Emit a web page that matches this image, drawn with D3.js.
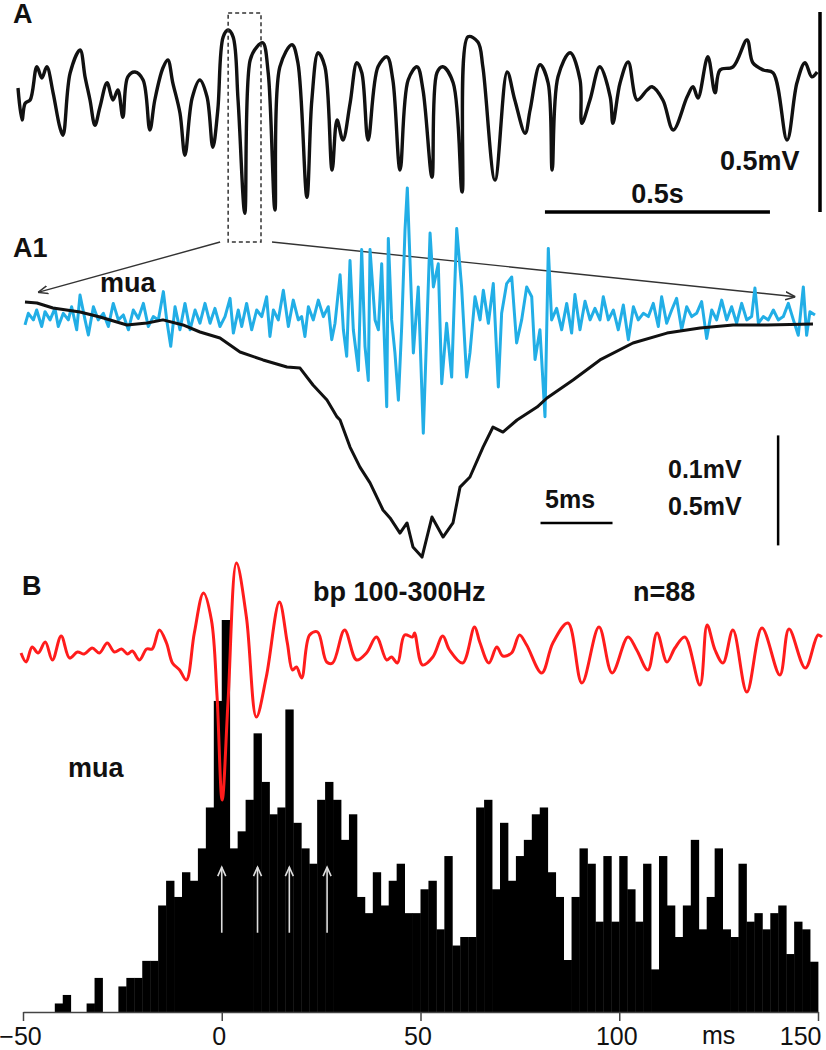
<!DOCTYPE html>
<html>
<head>
<meta charset="utf-8">
<script src="https://cdn.jsdelivr.net/npm/d3@7"></script>
<style>
  body { margin: 0; background: #fff; }
  svg { display: block; font-family: "Liberation Sans", Arial, sans-serif; }
</style>
</head>
<body>
<svg id="fig" width="826" height="1050"></svg>
<script>
// ---- data ----

// A: raw LFP, [time s, mV]
const lfpA = [
  [0.000,0.03],[0.009,-0.05],[0.016,-0.008],[0.027,0],[0.042,0.083],[0.053,0.055],[0.064,0.083],[0.078,0.018],
  [0.093,-0.068],[0.100,-0.088],[0.116,0.068],[0.138,0.125],[0.149,0.058],[0.160,0],[0.171,-0.063],[0.182,-0.018],
  [0.198,0.043],[0.211,0],[0.222,0.025],[0.233,-0.043],[0.244,0.058],[0.260,0.07],[0.278,0.05],[0.293,-0.075],
  [0.304,0],[0.322,0.08],[0.333,0.1],[0.344,0.043],[0.360,-0.033],[0.371,-0.138],[0.387,0.005],[0.404,0.05],
  [0.420,0.008],[0.433,-0.118],[0.444,-0.025],[0.456,0.158],[0.467,0.175],[0.478,0.158],[0.489,0],[0.504,-0.283],
  [0.516,0.1],[0.531,0.133],[0.544,0.143],[0.556,0.068],[0.571,-0.275],[0.582,0.083],[0.609,0.138],[0.622,0.093],
  [0.642,-0.243],[0.653,0],[0.667,0.118],[0.682,0.083],[0.698,-0.175],[0.709,-0.05],[0.722,-0.1],[0.738,-0.008],
  [0.753,0.093],[0.764,0.068],[0.778,-0.1],[0.800,0.083],[0.820,0.108],[0.833,0.05],[0.849,-0.175],[0.867,0.05],
  [0.887,0.083],[0.900,0.025],[0.920,-0.193],[0.931,0.068],[0.944,0.083],[0.967,0.043],[0.987,-0.23],[1.000,0.158],
  [1.022,0.145],[1.033,0.083],[1.060,-0.2],[1.087,0.07],[1.104,0],[1.127,-0.083],[1.138,-0.025],[1.160,0.088],
  [1.178,0.043],[1.187,-0.175],[1.200,0.058],[1.227,0.118],[1.249,0.05],[1.253,-0.058],[1.271,0],[1.293,0.083],
  [1.316,0.008],[1.322,-0.058],[1.338,0.043],[1.356,0.095],[1.376,0],[1.398,0.025],[1.409,0.033],[1.433,0],
  [1.456,-0.075],[1.487,0.008],[1.500,0.033],[1.511,0.005],[1.533,0.108],[1.549,0.018],[1.560,0.075],[1.589,0.083],
  [1.620,0.15],[1.633,0.093],[1.656,0.075],[1.678,0.068],[1.709,-0.1],[1.731,0.043],[1.749,0.093],[1.764,0.058],
  [1.776,0.07]
];
const zoomWindow = [0.467, 0.540]; // s, dashed box

// A1: expanded LFP [ms, mV]
const a1Lfp = [
  [0,0.036],[0.83,0.032],[1.94,0.009],[3.82,-0.009],[5.21,-0.032],[7.08,-0.068],[8.47,-0.059],[9.58,-0.045],
  [10.97,-0.068],[12.15,-0.1],[13.54,-0.127],[14.93,-0.191],[16.53,-0.227],[18.19,-0.259],[19.10,-0.264],
  [20.0,-0.341],[20.97,-0.409],[21.67,-0.486],[21.88,-0.5],[22.57,-0.623],[23.26,-0.714],[23.96,-0.786],
  [24.86,-0.909],[25.35,-0.945],[26.04,-1.014],[26.53,-0.968],[26.94,-1.077],[27.57,-1.123],[28.26,-0.941],
  [29.03,-1.032],[29.72,-0.968],[30.21,-0.805],[30.90,-0.759],[31.81,-0.623],[32.5,-0.532],[33.19,-0.555],
  [34.17,-0.5],[35.56,-0.441],[36.25,-0.4],[38.06,-0.318],[39.93,-0.227],[42.22,-0.15],[44.58,-0.105],
  [46.88,-0.082],[49.17,-0.068],[51.53,-0.068],[54.72,-0.064]
];

// A1: multi-unit activity [ms, µV]
const a1Mua = [
  [0,-13.6],[0.23,-3],[0.58,-9],[0.81,0],[1.16,-15],[1.39,-1.5],[1.74,-9],[2.08,1.5],[2.31,-15],[2.66,-3],
  [3.01,-9],[3.24,3],[3.59,-18],[3.82,13.6],[4.17,-9],[4.40,-22.7],[4.75,3],[5.09,-9],[5.44,-3],[5.79,-15],
  [6.13,6],[6.48,-9],[6.83,-4.5],[7.18,-18],[7.52,0],[7.87,-7.6],[8.22,6],[8.56,-15],[8.91,-6],[9.26,-9],
  [9.61,16.7],[9.84,-9],[10.12,-33],[10.42,3],[10.76,-18],[11.11,6],[11.46,-18],[11.81,0],[12.15,-12],[12.5,6],
  [12.85,-12],[13.19,1.5],[13.54,-15],[13.89,-6],[14.24,10.6],[14.47,-21],[14.81,0],[15.05,-15],[15.39,6],
  [15.74,-18],[16.09,0],[16.44,-6],[16.78,12],[17.01,-24],[17.25,0],[17.59,-9],[17.94,18],[18.29,-15],[18.63,9],
  [18.98,-9],[19.21,-6],[19.44,-24],[19.68,3],[20.02,-9],[20.37,9],[20.72,-6],[21.06,3],[21.30,-27],[21.53,-12],
  [21.88,32],[22.11,-18],[22.34,-42],[22.57,45],[22.80,-18],[23.15,-55],[23.38,55],[23.61,-33],[23.84,-64],
  [23.96,55],[24.31,-9],[24.54,-18],[24.77,42],[25.12,-88],[25.23,65],[25.46,-9],[25.69,-39],[25.93,-82],
  [26.16,-15],[26.39,73],[26.55,111],[26.97,-39],[27.31,21],[27.66,-112],[28.13,70],[28.36,21],[28.70,42],
  [28.94,-67],[29.28,-12],[29.63,-61],[29.98,74],[30.32,21],[30.67,-61],[30.90,-39],[31.25,12],[31.60,-9],
  [31.83,18],[32.18,-12],[32.52,24],[32.87,-70],[33.10,-3],[33.45,24],[33.80,30],[34.14,-30],[34.49,-9],
  [34.84,21],[35.19,12],[35.42,-45],[35.76,-18],[36.11,-97],[36.34,56],[36.57,-9],[36.92,1.5],[37.27,-18],
  [37.62,6],[37.96,-21],[38.19,14],[38.54,-18],[38.89,8],[39.24,-9],[39.58,1.5],[39.93,-9],[40.16,12],
  [40.51,-9],[40.86,0],[41.20,-18],[41.55,4.5],[41.90,-27],[42.25,3],[42.59,-9],[42.94,-3],[43.29,-6],
  [43.63,6],[43.98,-15],[44.21,12],[44.56,-12],[44.91,0],[45.25,10.6],[45.60,-18],[45.95,3],[46.30,-6],
  [46.64,-3],[46.99,7.6],[47.34,-26],[47.69,0],[48.03,-9],[48.38,9],[48.73,-9],[49.07,3],[49.42,-12],
  [49.77,6],[50.12,-9],[50.46,-6],[50.69,20],[50.93,-12],[51.27,-6],[51.62,-9],[51.97,0],[52.31,-9],
  [52.66,-6],[53.01,6],[53.36,-9],[53.70,-23],[54.05,21],[54.28,-23],[54.51,-1.5],[54.86,-4.5]
];

// B: band-pass 100-300 Hz average [ms, µV]
const bpTrace = [
  [-50.5,-3],[-49.2,-12],[-47.7,3],[-46.2,-3],[-44.4,8],[-42.6,-10],[-40.4,14],[-38.3,-8],[-36.3,-2],
  [-34.6,-4],[-32.6,2],[-30.8,-3],[-28.8,7],[-27.0,-2],[-25.2,1],[-23.7,-4],[-22.5,-1],[-20.7,-10],
  [-18.9,1],[-17.5,1],[-15.7,20],[-13.9,7],[-12.4,-13],[-10.6,-20],[-8.9,-30],[-6.9,17],[-4.6,57],
  [-2.6,30],[-1.2,-45],[0.1,-150],[1.6,-50],[3.7,87],[6.2,33],[8.7,-67],[11.2,-27],[14.5,48],[16.5,7],
  [17.8,-20],[18.8,-17],[20.1,-28],[22.1,15],[24.1,18],[26.4,-12],[27.9,-13],[30.9,20],[33.9,-10],
  [36.4,-3],[38.9,13],[41.5,-10],[42.7,-7],[44.2,-13],[46.0,15],[48.0,13],[48.5,17],[50.5,-15],[53.1,-7],
  [55.6,14],[57.3,0],[60.6,-13],[63.6,23],[64.9,8],[67.2,-13],[69.2,3],[70.7,-6],[72.9,-3],[74.9,15],
  [76.7,5],[80.5,-23],[83.3,7],[87.1,27],[90.6,-33],[94.9,23],[98.2,-23],[102.2,13],[104.4,0],[107.2,-20],
  [109.5,17],[112.0,-12],[114.0,2],[116.5,13],[120.3,-35],[122.1,25],[124.1,0],[126.1,-13],[128.6,20],
  [132.1,-42],[135.9,22],[140.4,-25],[142.7,21],[146.8,-18],[150.0,15],[151.0,13]
];

// B: mua histogram, 2 ms bins from -50 ms
const histStart = -50;
const binMs = 2;
const histCounts = [
  0,0,0,0,1,2,0,0,1,4,
  0,0,3,4,4,6,6,12.5,15.4,13.5,
  16.4,15.4,19.2,24,36.5,46,19.2,21.2,24.9,32.7,
  27,23.2,24,35.5,22.2,19.2,17.4,24.9,27,24.9,
  20.2,23.2,13.5,11.6,16.4,12.5,15.4,17.4,11.6,11.6,
  14.4,15.4,9.7,18.3,7.8,8.8,8.8,24,24.9,14.4,
  22.2,15.4,18.3,20.2,23.2,24,16.4,13.5,6.1,13.5,
  19.2,17.4,10.6,18.3,10.6,18.3,14.4,10.6,17.4,5,
  18.3,12.5,8.8,12.5,20.2,9.7,13.5,19.2,9.7,8.8,
  17.4,10.6,11.6,9.7,11.6,12.5,6.8,10.6,9.7,5.9
];
const arrowTimes = [0, 9, 17, 26.5];
const histTicks = [-50, 0, 50, 100, 150];

// ---- scales ----
const svg = d3.select("#fig");

const xA = d3.scaleLinear().domain([0, 1]).range([18, 468]);
const yA = d3.scaleLinear().domain([0, 1]).range([100, -300]);

const xA1 = d3.scaleLinear().domain([0, 50]).range([25, 745]);
const yLfp = d3.scaleLinear().domain([0, 1]).range([310, 90]);
const yMua = d3.scaleLinear().domain([0, 100]).range([310, 200]);

const xB = d3.scaleLinear().domain([-50, 150]).range([23, 818]);
const yBp = d3.scaleLinear().domain([0, 100]).range([650, 550]);
const yH = d3.scaleLinear().domain([0, 46]).range([1012, 620]);

const label = (x, y, txt, size, weight, anchor) =>
  svg.append("text").attr("x", x).attr("y", y).text(txt)
    .attr("font-size", size).attr("font-weight", weight || "bold")
    .attr("text-anchor", anchor || "start").attr("fill", "#111");

// ---- panel A ----
const lineA = d3.line().x(d => xA(d[0])).y(d => yA(d[1])).curve(d3.curveCatmullRom.alpha(0.5));
svg.append("path").datum(lfpA).attr("d", lineA)
  .attr("fill", "none").attr("stroke", "#111").attr("stroke-width", 3.4).attr("stroke-linejoin", "round");

// dashed zoom box
svg.append("rect")
  .attr("x", xA(zoomWindow[0])).attr("y", 13)
  .attr("width", xA(zoomWindow[1]) - xA(zoomWindow[0])).attr("height", 229)
  .attr("fill", "none").attr("stroke", "#333").attr("stroke-width", 1.5).attr("stroke-dasharray", "4,3");

// scale bars A
svg.append("line").attr("x1", xA(1.171)).attr("x2", xA(1.671)).attr("y1", 212).attr("y2", 212)
  .attr("stroke", "#000").attr("stroke-width", 3.5);
svg.append("line").attr("x1", 820).attr("x2", 820).attr("y1", yA(0.22)).attr("y2", yA(-0.28))
  .attr("stroke", "#000").attr("stroke-width", 3.5);
label(xA(1.421), 203, "0.5s", 27, "bold", "middle");
label(720, 170, "0.5mV", 27);
label(13, 23, "A", 27);

// ---- panel A1 ----
const defs = svg.append("defs");
defs.append("marker").attr("id", "head").attr("viewBox", "0 0 10 10")
  .attr("refX", 10).attr("refY", 5).attr("markerWidth", 10).attr("markerHeight", 10)
  .attr("orient", "auto").attr("markerUnits", "userSpaceOnUse")
  .append("path").attr("d", "M0,1 L10,5 L0,9").attr("fill", "none").attr("stroke", "#333").attr("stroke-width", 1.5);

svg.append("line").attr("x1", xA(zoomWindow[0]) - 8).attr("y1", 242)
  .attr("x2", xA1(0.9)).attr("y2", yLfp(0.08))
  .attr("stroke", "#333").attr("stroke-width", 1.4).attr("marker-end", "url(#head)");
svg.append("line").attr("x1", xA(zoomWindow[1]) + 11).attr("y1", 242)
  .attr("x2", xA1(53.5)).attr("y2", yLfp(0.06))
  .attr("stroke", "#333").attr("stroke-width", 1.4).attr("marker-end", "url(#head)");

const lineMua = d3.line().x(d => xA1(d[0])).y(d => yMua(d[1]));
svg.append("path").datum(a1Mua).attr("d", lineMua)
  .attr("fill", "none").attr("stroke", "#22aee6").attr("stroke-width", 3).attr("stroke-linejoin", "round");

const lineLfp = d3.line().x(d => xA1(d[0])).y(d => yLfp(d[1]));
svg.append("path").datum(a1Lfp).attr("d", lineLfp)
  .attr("fill", "none").attr("stroke", "#111").attr("stroke-width", 3).attr("stroke-linejoin", "round");

// scale bars A1
svg.append("line").attr("x1", xA1(52.3)).attr("x2", xA1(52.3)).attr("y1", yLfp(-0.57)).attr("y2", yLfp(-1.07))
  .attr("stroke", "#000").attr("stroke-width", 2.5);
svg.append("line").attr("x1", xA1(35.8)).attr("x2", xA1(40.8)).attr("y1", 523).attr("y2", 523)
  .attr("stroke", "#000").attr("stroke-width", 2.5);
label(668, 478, "0.1mV", 25);
label(668, 515, "0.5mV", 25);
label(545, 508, "5ms", 25);
label(13, 257, "A1", 27);
label(100, 292, "mua", 27);

// ---- panel B ----
const bins = histCounts.map((c, i) => ({ t: histStart + i * binMs, c }));
svg.append("g").selectAll("rect").data(bins).join("rect")
  .attr("x", d => xB(d.t))
  .attr("width", d => xB(d.t + binMs) - xB(d.t) + 0.4)
  .attr("y", d => yH(d.c))
  .attr("height", d => yH(0) - yH(d.c))
  .attr("fill", "#000");

const axis = d3.axisBottom(xB).tickValues(histTicks).tickSize(9).tickSizeOuter(0);
const gAx = svg.append("g").attr("transform", `translate(0,${yH(0)})`).call(axis);
gAx.select(".domain").attr("stroke", "#444").attr("stroke-width", 1.5);
gAx.selectAll(".tick line").attr("stroke", "#444").attr("stroke-width", 1.5);
gAx.selectAll(".tick text").attr("font-size", 25).attr("font-family", "Liberation Sans, Arial, sans-serif")
  .attr("fill", "#111").attr("y", 15).attr("dy", "0.71em")
  .attr("text-anchor", d => d === 150 ? "end" : "middle")
  .attr("dx", d => d === 150 ? 3 : -3);
label(xB(125), 1044, "ms", 25, "normal", "middle");

// white arrows on histogram
const gArr = svg.append("g").attr("stroke", "#ddd").attr("stroke-width", 1.6).attr("fill", "none");
arrowTimes.forEach(t => {
  const x = xB(t), yb = yH(9.3), yt = yH(17);
  gArr.append("line").attr("x1", x).attr("x2", x).attr("y1", yb).attr("y2", yt);
  gArr.append("path").attr("d", `M${x - 4},${yt + 9} L${x},${yt} L${x + 4},${yt + 9}`);
});

const lineBp = d3.line().x(d => xB(d[0])).y(d => yBp(d[1])).curve(d3.curveCatmullRom.alpha(0.5));
svg.append("path").datum(bpTrace).attr("d", lineBp)
  .attr("fill", "none").attr("stroke", "#ff1c1c").attr("stroke-width", 3).attr("stroke-linejoin", "round");

label(22, 595, "B", 27);
label(313, 601, "bp 100-300Hz", 27);
label(633, 601, "n=88", 27);
label(68, 777, "mua", 27);
</script>
</body>
</html>
